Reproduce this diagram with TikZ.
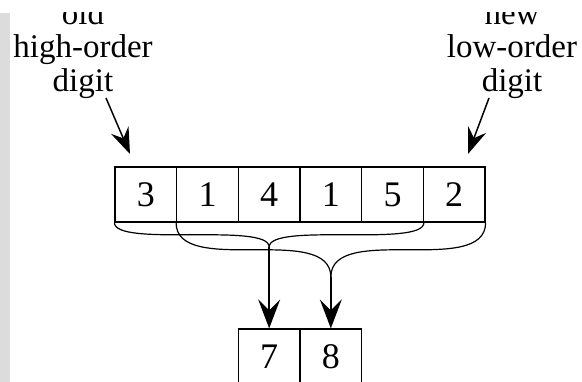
\documentclass[tikz,border=0pt]{standalone}
\usepackage{fontspec}
\setmainfont{Liberation Serif}
\usetikzlibrary{arrows.meta}
\definecolor{stripgray}{RGB}{220,220,220}
\tikzset{
  cell/.style={draw, line width=1.2pt, minimum width=61.67pt, minimum height=55pt,
               inner sep=0pt, font=\fontsize{36}{40}\selectfont},
  lbl/.style={anchor=base, inner sep=0pt, font=\fontsize{33}{38}\selectfont},
  brace/.style={line width=1.2pt},
  downarr/.style={line width=1.4pt, -{Stealth[length=29pt,width=22pt,inset=11pt]}},
  slantarr/.style={line width=1.5pt, -{Stealth[length=26pt,width=19pt,inset=9pt]}}
}
\begin{document}
\begin{tikzpicture}[x=1pt,y=-1pt]
\useasboundingbox (0,0) rectangle (582,382);
\begin{scope}
\clip (0,13) rectangle (582,382);
\fill[stripgray] (0,13) rectangle (9.5,382);

% labels
\node[lbl] (oldL)  at (83,25) {old};
\node[lbl] (highL) at (83,58) {high-order};
\node[lbl] (digL)  at (83,92) {digit};
\node[lbl] (newR)  at (512,25) {new};
\node[lbl] (lowR)  at (512,58) {low-order};
\node[lbl] (digR)  at (512,92) {digit};

% the six-digit register
\node[cell] (c1) at (145.83,194.5) {3};
\node[cell] (c2) at (207.50,194.5) {1};
\node[cell] (c3) at (269.17,194.5) {4};
\node[cell] (c4) at (330.83,194.5) {1};
\node[cell] (c5) at (392.50,194.5) {5};
\node[cell] (c6) at (454.17,194.5) {2};

% the two-digit result
\node[cell] (r1) at (269.17,356.5) {7};
\node[cell] (r2) at (330.83,356.5) {8};

% pointers to the dropped and the added digit
\coordinate (pL0) at (106,98);
\coordinate (pL1) at (130,154);
\coordinate (pR0) at (489,98);
\coordinate (pR1) at (468,154);
\draw[slantarr] (pL0) -- (pL1);
\draw[slantarr] (pR0) -- (pR1);

% braces grouping the two five-digit windows
\coordinate (t1) at (269.17,247);
\coordinate (t2) at (330.83,277);
\draw[brace] (c1.south west) .. controls +(0,25) and +(0,-25) .. (t1);
\draw[brace] (c5.south east) .. controls +(0,25) and +(0,-25) .. (t1);
\draw[brace] (c2.south west) .. controls +(0,55) and +(0,-55) .. (t2);
\draw[brace] (c6.south east) .. controls +(0,55) and +(0,-55) .. (t2);
\draw[downarr] (t1) -- (r1.north);
\draw[downarr] (t2) -- (r2.north);
\end{scope}
\end{tikzpicture}
\end{document}
